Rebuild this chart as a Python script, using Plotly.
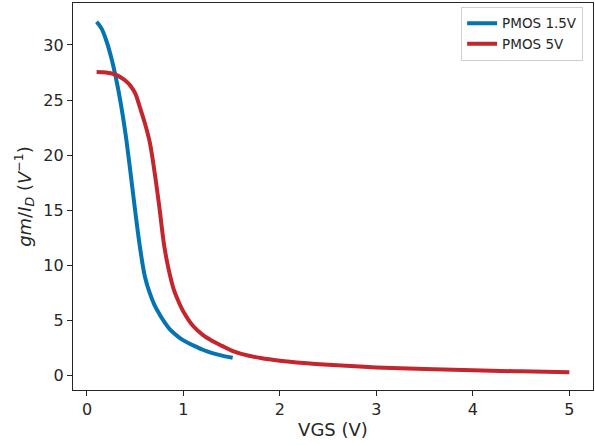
import plotly.graph_objects as go

# PMOS 1.5V
vgs_15 = [0.10, 0.15, 0.20, 0.25, 0.30, 0.35, 0.40, 0.45, 0.50, 0.55, 0.60, 0.65,
          0.70, 0.75, 0.80, 0.87, 0.95, 1.00, 1.10, 1.20, 1.30, 1.40, 1.51]
gm_15 = [32.1, 31.5, 30.4, 28.9, 27.0, 24.7, 21.9, 18.5, 14.9, 11.6, 9.0, 7.5,
         6.4, 5.6, 4.9, 4.1, 3.5, 3.2, 2.75, 2.35, 2.05, 1.82, 1.63]

# PMOS 5V
vgs_5 = [0.10, 0.20, 0.30, 0.35, 0.40, 0.45, 0.50, 0.55, 0.60, 0.65, 0.70, 0.75,
         0.80, 0.85, 0.90, 0.95, 1.00, 1.10, 1.20, 1.30, 1.40, 1.50, 1.60, 1.80,
         2.00, 2.25, 2.50, 3.00, 3.50, 4.00, 4.50, 5.00]
gm_5 = [27.55, 27.5, 27.3, 27.05, 26.75, 26.3, 25.6, 24.3, 22.9, 21.2, 18.5, 15.3,
        11.8, 9.5, 7.8, 6.7, 5.8, 4.5, 3.7, 3.15, 2.7, 2.28, 1.98, 1.6,
        1.35, 1.14, 0.98, 0.75, 0.60, 0.48, 0.39, 0.31]

x_ticks = [0, 1, 2, 3, 4, 5]
y_ticks = [0, 5, 10, 15, 20, 25, 30]

TXT = "#262626"
FONT = "DejaVu Sans"

fig = go.Figure()
fig.add_trace(go.Scatter(x=vgs_15, y=gm_15, mode="lines", name="PMOS 1.5V",
                         line=dict(color="#0474b3", width=4, shape="spline", smoothing=1)))
fig.add_trace(go.Scatter(x=vgs_5, y=gm_5, mode="lines", name="PMOS 5V",
                         line=dict(color="#c4262e", width=4, shape="spline", smoothing=1)))

axis_common = dict(showline=True, linecolor=TXT, linewidth=1.2, mirror=True,
                   ticks="outside", ticklen=5, tickwidth=1.2, tickcolor=TXT,
                   showgrid=False, zeroline=False,
                   tickfont=dict(family=FONT, size=16, color=TXT))

fig.update_layout(
    width=595, height=445,
    margin=dict(l=73, r=2, t=3, b=55),
    paper_bgcolor="white", plot_bgcolor="white",
    font=dict(family=FONT, color=TXT),
    xaxis=dict(range=[-0.145, 5.245], tickvals=x_ticks,
               title=dict(text="VGS (V)", font=dict(family=FONT, size=18, color=TXT), standoff=5),
               **axis_common),
    yaxis=dict(range=[-1.3, 33.8], tickvals=y_ticks,
               title=dict(text="<i>gm</i>/<i>I<sub>D</sub></i> (<i>V</i><sup>−1</sup>)",
                          font=dict(family=FONT, size=18, color=TXT), standoff=7),
               **axis_common),
    legend=dict(x=0.981, xanchor="right", y=0.99, yanchor="top",
                bgcolor="white", bordercolor="#d0d0d0", borderwidth=1,
                font=dict(family=FONT, size=13.5, color=TXT),
                itemwidth=30, tracegroupgap=0),
    showlegend=True,
)

fig.write_html("out.html", config={"displayModeBar": False},
               post_script="document.body.style.margin='0';document.body.style.overflow='hidden';")
